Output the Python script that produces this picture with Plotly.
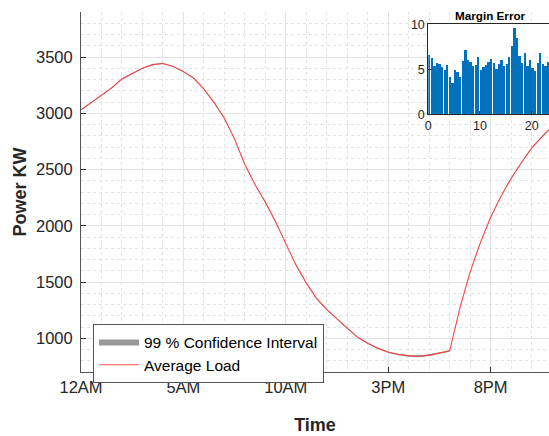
import plotly.graph_objects as go

# ---- data ----
hours = [0.0, 0.5, 1.0, 1.5, 2.0, 2.5, 3.0, 3.5, 4.0, 4.5, 5.0, 5.5, 6.0, 6.5, 7.0, 7.5,
         8.0, 8.5, 9.0, 9.5, 10.0, 10.5, 11.0, 11.5, 12.0, 12.5, 13.0, 13.5, 14.0, 14.5,
         15.0, 15.5, 16.0, 16.5, 17.0, 17.5, 18.0, 18.5, 19.0, 19.5, 20.0, 20.5, 21.0,
         21.5, 22.0, 22.5, 23.0]
avg_load = [3030, 3095, 3160, 3225, 3305, 3355, 3400, 3432, 3442, 3415, 3370, 3312, 3215,
            3095, 2955, 2770, 2545, 2365, 2210, 2035, 1835, 1650, 1490, 1355, 1255, 1170,
            1090, 1010, 955, 910, 876, 855, 843, 840, 850, 868, 888, 1270, 1590, 1850, 2075,
            2260, 2420, 2560, 2690, 2790, 2880]
margin_error = [6.6, 6.2, 5.3, 5.7, 5.6, 5.2, 4.9, 5.4, 4.1, 3.4, 4.9, 4.7, 4.1, 5.9, 7.1,
                6.0, 5.8, 5.3, 5.5, 6.3, 4.9, 5.2, 5.5, 5.8, 6.1, 5.7, 5.0, 5.6, 6.0, 5.3,
                5.6, 6.3, 7.6, 9.6, 8.5, 6.4, 5.7, 6.8, 5.3, 6.0, 5.1, 4.8, 5.7, 6.8, 5.6,
                5.3, 5.8]
tick_vals = [0, 5, 10, 15, 20]
tick_text = ["12AM", "5AM", "10AM", "3PM", "8PM"]

upper = [l + m for l, m in zip(avg_load, margin_error)]
lower = [l - m for l, m in zip(avg_load, margin_error)]

FONT = "Liberation Sans, Arial, sans-serif"
TXT = "#262626"

fig = go.Figure()
fig.add_trace(go.Scatter(x=hours, y=lower, mode="lines", line=dict(width=0, color="#999999"),
                         showlegend=False, hoverinfo="skip"))
fig.add_trace(go.Scatter(x=hours, y=upper, mode="lines", line=dict(width=0, color="#999999"),
                         fill="tonexty", fillcolor="#999999", name="99 % Confidence Interval"))
fig.add_trace(go.Scatter(x=hours, y=avg_load, mode="lines",
                         line=dict(color="rgba(255,50,50,0.85)", width=1.1), name="Average Load"))
fig.add_trace(go.Bar(x=hours, y=margin_error, xaxis="x2", yaxis="y2",
                     marker=dict(color="#0072BD", line=dict(width=0)), width=0.45, offset=0.0,
                     showlegend=False))

L, T, R, B = 81, 12, 0, 64
W, H = 549, 436
pw, ph = W - L - R, H - T - B

fig.update_layout(
    width=W, height=H,
    margin=dict(l=L, r=R, t=T, b=B),
    paper_bgcolor="white", plot_bgcolor="white",
    font=dict(family=FONT, color=TXT),
    showlegend=True,
    legend=dict(x=(93 - L) / pw, y=(372 - 324) / ph, xanchor="left", yanchor="top",
                bgcolor="white", bordercolor="#555555", borderwidth=1, traceorder="normal",
                font=dict(size=15.5, family=FONT, color="#000000"),
                itemwidth=40, tracegroupgap=0),
    xaxis=dict(domain=[0, 1], range=[0, 22.85], tickvals=tick_vals, ticktext=tick_text,
               ticks="inside", ticklen=5, tickcolor=TXT, showline=True, linecolor="#555555",
               linewidth=1, mirror=False, zeroline=False,
               showgrid=True, gridcolor="#e2e2e2", gridwidth=1,
               minor=dict(dtick=1, tick0=0, showgrid=True, gridcolor="#e2e2e2", griddash="dot"),
               tickfont=dict(size=16.5, family=FONT, color=TXT),
               title=dict(text="<b>Time</b>", font=dict(size=18, family=FONT, color=TXT), standoff=23)),
    yaxis=dict(domain=[0, 1], range=[700, 3900], dtick=500, tick0=0,
               ticks="inside", ticklen=5, tickcolor=TXT, showline=True, linecolor="#555555",
               linewidth=1, mirror=False, zeroline=False,
               showgrid=True, gridcolor="#e2e2e2", gridwidth=1,
               minor=dict(dtick=100, tick0=0, showgrid=True, gridcolor="#e2e2e2", griddash="dot"),
               tickfont=dict(size=16.5, family=FONT, color=TXT), ticklabelstandoff=4,
               title=dict(text="<b>Power KW</b>", font=dict(size=18, family=FONT, color=TXT), standoff=4)),
    xaxis2=dict(domain=[(428.3 - L) / pw, 1], range=[0, 23.35], anchor="y2",
                tickvals=[0, 10, 20], ticks="inside", ticklen=3, tickcolor=TXT,
                showline=True, linecolor=TXT, mirror=True, showgrid=False, zeroline=False,
                tickfont=dict(size=12.5, family=FONT, color=TXT)),
    yaxis2=dict(domain=[1 - (114.3 - T) / ph, 1 - (24.3 - T) / ph], range=[0, 10], anchor="x2",
                tickvals=[0, 5, 10], ticks="inside", ticklen=3, tickcolor=TXT,
                showline=True, linecolor=TXT, mirror=True, showgrid=False, zeroline=False,
                tickfont=dict(size=12.5, family=FONT, color=TXT)),
    bargap=0,
    shapes=[dict(type="rect", xref="x2 domain", yref="y2 domain", x0=0, x1=1, y0=0, y1=1,
                 fillcolor="white", line=dict(width=0), layer="below")],
    annotations=[dict(text="<b>Margin Error</b>", x=(490 - L) / pw, y=(372 - 15.7) / ph,
                      xref="paper", yref="paper", xanchor="center", yanchor="middle",
                      showarrow=False,
                      font=dict(size=11.7, family=FONT, color="#000000"))],
)

fig.write_html("out.html")
